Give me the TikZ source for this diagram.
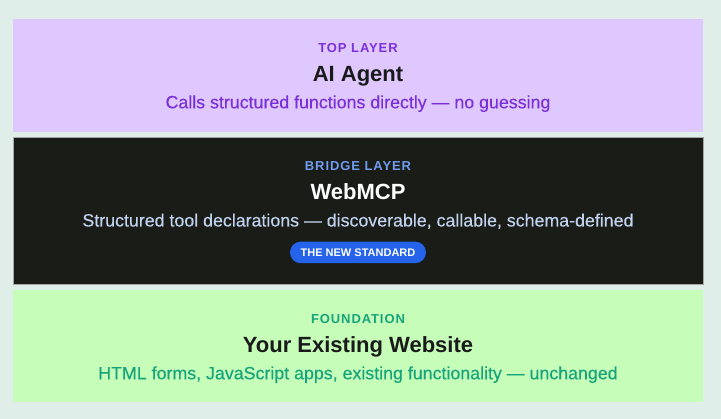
\documentclass[tikz,border=0pt]{standalone}
\usepackage{fontspec}
\setmainfont{Liberation Sans}
\newfontfamily\capsfont[LetterSpace=7]{Liberation Sans}
\newfontfamily\subfont[FakeBold=0.3]{Liberation Sans}
\definecolor{bgc}{HTML}{E0EEEA}
\definecolor{purband}{HTML}{DFC8FE}
\definecolor{darkband}{HTML}{1A1D17}
\definecolor{greenband}{HTML}{C5FDB9}
\definecolor{purtext}{HTML}{7B2FD8}
\definecolor{bluelabel}{HTML}{6F9BF0}
\definecolor{bluesub}{HTML}{C2D2EE}
\definecolor{badgeblue}{HTML}{2563EB}
\definecolor{tealtext}{HTML}{16A47A}
\definecolor{headdark}{HTML}{1A1A1A}
\tikzset{
  band/.style={inner sep=0pt, anchor=north west, minimum width=690pt},
  tag/.style={inner sep=0pt, anchor=base, font=\capsfont\bfseries\fontsize{13}{15}\selectfont},
  head/.style={inner sep=0pt, anchor=base, font=\bfseries\fontsize{22}{26}\selectfont},
  sub/.style={inner sep=0pt, anchor=base, font=\subfont\fontsize{17.8}{21}\selectfont},
}
\begin{document}
\begin{tikzpicture}[x=1pt,y=-1pt]
\useasboundingbox (0,0) rectangle (721,419);
\fill[bgc] (0,0) rectangle (721,419);
\node[band, fill=purband, minimum height=113pt] (topband) at (13,19) {};
\node[band, fill=darkband, draw=gray!70, line width=0.6pt, minimum height=147pt] (midband) at (13,137) {};
\node[band, fill=greenband, minimum height=112pt] (botband) at (13,290) {};

\node[tag, text=purtext] (toptag) at (358,52.7) {TOP LAYER};
\node[head, text=headdark] (tophead) at (358,81.7) {AI Agent};
\node[sub, text=purtext] (topsub) at (358,108.3) {Calls structured functions directly — no guessing};

\node[tag, text=bluelabel] (midtag) at (358,170.7) {BRIDGE LAYER};
\node[head, text=white] (midhead) at (358,199.7) {WebMCP};
\node[sub, text=bluesub] (midsub) at (358,226.5) {Structured tool declarations — discoverable, callable, schema-defined};
\node[fill=badgeblue, rounded corners=10.7pt, minimum width=136pt, minimum height=21.5pt, inner sep=0pt,
  text=white, font=\bfseries\fontsize{11}{13}\selectfont] (badge) at (358,252.4) {THE NEW STANDARD};

\node[tag, text=tealtext] (bottag) at (358,323.5) {FOUNDATION};
\node[head, text=headdark] (bothead) at (358,352.7) {Your Existing Website};
\node[sub, text=tealtext] (botsub) at (358,379.3) {HTML forms, JavaScript apps, existing functionality — unchanged};
\end{tikzpicture}
\end{document}
